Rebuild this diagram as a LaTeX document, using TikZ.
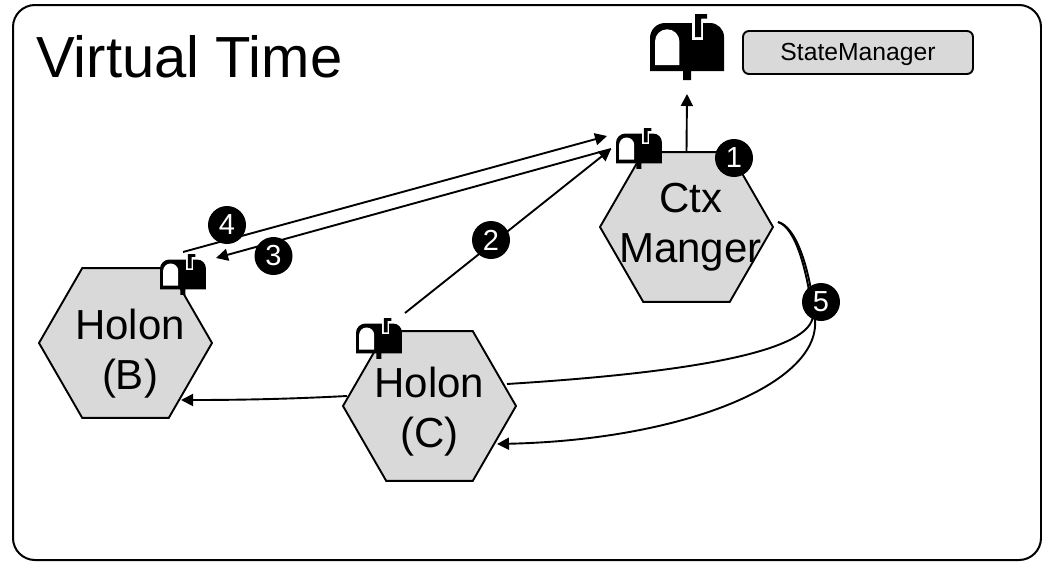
\documentclass[tikz,border=0pt]{standalone}
\usepackage{fontspec}
\setmainfont{Liberation Sans}
\usetikzlibrary{shapes.geometric,arrows.meta}
\definecolor{hexfill}{HTML}{D9D9D9}
\tikzset{
  x=1pt,y=-1pt,
  hexa/.style={regular polygon,regular polygon sides=6,minimum size=173pt,inner sep=0pt,outer sep=0pt,draw=black,line width=1.9pt,fill=hexfill},
  hexlabel/.style={align=center,inner sep=0pt,font=\fontsize{42}{50}\selectfont,text=black},
  badge/.style={circle,fill=black,text=white,minimum size=38pt,inner sep=0pt,font=\fontsize{29}{29}\selectfont},
  conn/.style={line width=1.9pt,-{Triangle[length=12pt,width=12pt]}},
  plainconn/.style={line width=1.9pt},
  pics/mailbox/.style={code={
    \fill[black] (0,57) -- (0,24) arc[start angle=180,end angle=270,radius=15] -- (60,9) arc[start angle=270,end angle=360,radius=14] -- (74,57) -- (41,57) -- (41,66) -- (33,66) -- (33,57) -- cycle;
    \fill[white] (5,51) -- (5,27.5) arc[start angle=180,end angle=360,radius=12.2] -- (29.4,51) -- cycle;
    \fill[white] (41.7,6) rectangle (53,26);
    \fill[black] (45,0) -- (57,0) -- (57,4.5) -- (51,4.5) -- (51,23) -- (45,23) -- cycle;
  }}
}
\begin{document}
\begin{tikzpicture}
\useasboundingbox (0,0) rectangle (1042,562);
\draw[line width=2pt,rounded corners=22pt] (13,5) rectangle (1041,560);
\node[anchor=west,font=\fontsize{58}{58}\selectfont,text=black,inner sep=0pt] (title) at (36,57) {Virtual Time};
\node[draw=black,line width=1.9pt,fill=hexfill,rounded corners=6pt,minimum width=230pt,minimum height=43pt,inner sep=0pt] (sm) at (858,52.5) {};
\node[font=\fontsize{24.7}{26}\selectfont,text=black,inner sep=0pt] (smlabel) at (858,54) {StateManager};

\node[hexa] (ctx) at (686.5,227) {};
\node[hexa] (b) at (125.5,343) {};
\node[hexa] (c) at (429.5,406) {};
\node[hexlabel] (ctxlabel) at (690.5,227) {Ctx\\Manger};
\node[hexlabel] (blabel) at (130,354) {Holon\\(B)};
\node[hexlabel] (clabel) at (429.5,412) {Holon\\(C)};

\pic[scale=1] at (650,14) {mailbox};
\pic[scale=0.62] at (616,128) {mailbox};
\pic[scale=0.62] at (160,254) {mailbox};
\pic[scale=0.62] at (356,318) {mailbox};

\coordinate (mbigin) at (687,94);
\coordinate (inA) at (607,136);
\coordinate (inB) at (611,149);
\coordinate (fourS) at (183,252);
\coordinate (threeE) at (216,258);
\coordinate (twoS) at (405,313);
\coordinate (fiveS) at (778,222);
\coordinate (cOut) at (347,396);
\coordinate (bIn) at (181,400);

\draw[conn] (ctx.north) -- (mbigin);
\draw[conn] (fourS) -- (inA);
\draw[conn] (inB) -- (threeE);
\draw[conn] (twoS) -- (inB);
\draw[conn] (cOut) .. controls (290,399) and (240,400) .. (bIn);
\draw[plainconn] (fiveS) .. controls (795,228) and (806,265) .. (813,315) .. controls (812,350) and (700,372) .. (507,384);
\draw[conn] (fiveS) .. controls (795,226) and (810,265) .. (815,320) .. controls (820,385) and (680,440) .. (497,444);

\node[badge] (n1) at (734,158) {1};
\node[badge] (n2) at (491,240) {2};
\node[badge] (n3) at (273.5,256) {3};
\node[badge] (n4) at (227,225) {4};
\node[badge] (n5) at (821,302) {5};
\end{tikzpicture}
\end{document}
